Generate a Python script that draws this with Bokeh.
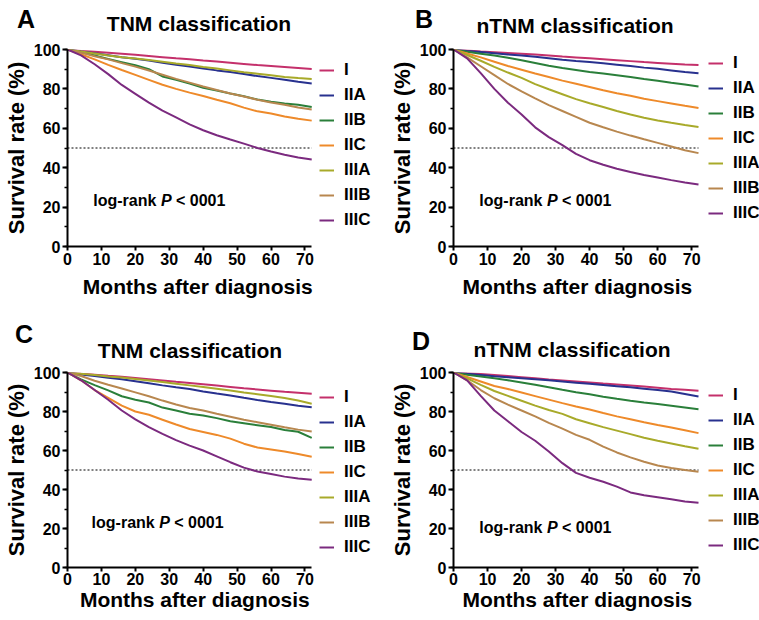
from bokeh.plotting import figure
from bokeh.models import Range1d, SingleIntervalTicker, Legend, LegendItem, Label, Div
from bokeh.layouts import column, row
from bokeh.embed import file_html
from bokeh.resources import INLINE

FONT = "Liberation Sans"

months = [0, 4, 8, 12, 16, 20, 24, 28, 32, 36, 40, 44, 48, 52, 56, 60, 64, 68, 72]
stages = ["I", "IIA", "IIB", "IIC", "IIIA", "IIIB", "IIIC"]
colors = ["#C4306B", "#28318F", "#2A7F3A", "#EE8A2A", "#A8AA2A", "#B8874F", "#7B2A7F"]
x_ticks_interval = 10
y_ticks_interval = 20
followup_end = 72
median_level = 50

panel_a = {
    "I":    [100, 99.3, 98.8, 98.3, 97.8, 97.3, 96.7, 96.1, 95.5, 95.0, 94.4, 93.9, 93.3, 92.7, 92.1, 91.6, 91.1, 90.6, 90.1],
    "IIA":  [100, 99.0, 98.1, 97.1, 96.1, 95.3, 94.4, 93.3, 92.3, 91.4, 90.4, 89.4, 88.6, 87.6, 86.5, 85.6, 84.6, 83.6, 82.7],
    "IIB":  [100, 98.6, 97.0, 95.2, 93.6, 92.0, 90.0, 86.3, 84.6, 82.7, 80.6, 79.2, 77.7, 76.3, 74.6, 73.5, 72.6, 71.9, 70.8],
    "IIC":  [100, 97.6, 95.0, 92.2, 89.6, 87.1, 84.6, 82.1, 80.0, 78.1, 76.4, 74.5, 72.7, 70.5, 68.6, 67.5, 66.0, 64.8, 63.9],
    "IIIA": [100, 99.0, 98.0, 97.0, 96.1, 95.4, 94.7, 93.8, 92.9, 92.1, 91.1, 90.3, 89.4, 88.5, 87.7, 86.9, 86.1, 85.5, 85.0],
    "IIIB": [100, 98.4, 96.6, 95.0, 93.1, 91.3, 89.3, 87.2, 85.1, 83.2, 81.2, 79.4, 77.7, 76.1, 74.5, 73.1, 72.0, 70.6, 69.5],
    "IIIC": [100, 97.0, 92.5, 87.5, 82.0, 77.5, 73.0, 69.0, 65.5, 62.0, 59.0, 56.5, 54.3, 52.2, 50.0, 48.2, 46.6, 45.2, 44.2],
}

panel_b = {
    "I":    [100, 99.5, 99.0, 98.6, 98.2, 97.8, 97.4, 96.9, 96.4, 96.0, 95.6, 95.1, 94.6, 94.1, 93.6, 93.2, 92.8, 92.4, 92.1],
    "IIA":  [100, 99.3, 98.7, 98.1, 97.5, 97.0, 96.3, 95.6, 94.8, 94.2, 93.7, 93.0, 92.3, 91.6, 90.8, 90.2, 89.4, 88.6, 88.0],
    "IIB":  [100, 98.9, 97.9, 96.9, 95.8, 94.5, 93.2, 91.8, 90.6, 89.6, 88.6, 87.8, 86.9, 86.0, 85.0, 84.1, 83.1, 82.2, 81.2],
    "IIC":  [100, 98.0, 96.0, 93.8, 91.6, 89.7, 87.8, 86.0, 84.2, 82.6, 81.0, 79.3, 77.8, 76.5, 75.0, 73.8, 72.6, 71.4, 70.3],
    "IIIA": [100, 97.2, 94.3, 91.2, 88.3, 85.6, 82.4, 79.8, 77.3, 74.8, 72.7, 70.8, 68.8, 67.0, 65.4, 64.0, 62.8, 61.7, 60.7],
    "IIIB": [100, 96.0, 91.5, 87.0, 82.5, 78.8, 75.2, 71.8, 68.8, 65.8, 62.8, 60.5, 58.3, 56.3, 54.4, 52.6, 50.8, 48.9, 47.4],
    "IIIC": [100, 95.5, 88.0, 80.0, 73.0, 67.0, 60.5, 55.5, 51.5, 47.0, 43.8, 41.5, 39.5, 37.8, 36.3, 35.0, 33.7, 32.5, 31.5],
}

panel_c = {
    "I":    [100, 99.4, 98.9, 98.3, 97.8, 97.2, 96.6, 95.9, 95.2, 94.6, 94.0, 93.3, 92.6, 91.9, 91.3, 90.7, 90.1, 89.6, 89.1],
    "IIA":  [100, 99.0, 98.2, 97.3, 96.5, 95.5, 94.5, 93.4, 92.4, 91.5, 90.3, 89.2, 88.2, 87.0, 85.9, 84.9, 84.0, 83.0, 82.2],
    "IIB":  [100, 96.5, 93.5, 90.8, 87.8, 86.0, 84.6, 82.0, 80.5, 78.8, 78.0, 76.6, 75.0, 74.0, 73.0, 72.0, 70.5, 69.6, 66.5],
    "IIC":  [100, 96.0, 91.0, 87.0, 83.0, 80.0, 78.3, 75.8, 73.3, 71.0, 69.5, 68.0, 66.1, 63.5, 61.5, 60.5, 59.5, 58.2, 56.8],
    "IIIA": [100, 99.4, 98.7, 98.0, 97.4, 96.7, 95.9, 95.1, 94.2, 93.4, 92.6, 91.7, 90.8, 89.8, 88.9, 87.9, 86.9, 85.6, 84.0],
    "IIIB": [100, 98.2, 95.8, 93.7, 91.8, 89.8, 87.8, 85.6, 83.6, 81.8, 80.5, 78.8, 77.3, 75.8, 74.5, 73.2, 71.9, 70.7, 69.7],
    "IIIC": [100, 96.0, 91.0, 86.0, 80.5, 76.0, 72.0, 68.5, 65.3, 62.5, 60.0, 57.0, 54.0, 51.2, 49.2, 47.9, 46.6, 45.6, 45.0],
}

panel_d = {
    "I":    [100, 99.6, 99.2, 98.7, 98.2, 97.6, 97.0, 96.4, 95.9, 95.4, 94.9, 94.3, 93.8, 93.3, 92.8, 92.2, 91.6, 91.1, 90.6],
    "IIA":  [100, 99.3, 98.7, 98.1, 97.6, 97.1, 96.6, 96.0, 95.4, 94.8, 94.2, 93.6, 93.0, 92.4, 91.7, 91.0, 90.2, 89.0, 87.7],
    "IIB":  [100, 98.8, 98.0, 97.0, 96.0, 94.9, 93.7, 92.4, 91.1, 89.9, 88.8, 87.6, 86.5, 85.5, 84.6, 83.8, 83.0, 82.1, 81.2],
    "IIC":  [100, 97.7, 95.4, 93.1, 91.5, 89.7, 87.9, 86.1, 84.3, 82.6, 81.0, 79.2, 77.5, 76.0, 74.5, 73.1, 71.8, 70.4, 68.9],
    "IIIA": [100, 97.0, 93.7, 90.5, 88.0, 85.5, 83.0, 80.8, 78.8, 76.0, 74.0, 72.0, 70.2, 68.4, 66.5, 65.0, 63.6, 62.2, 60.9],
    "IIIB": [100, 96.0, 91.0, 86.8, 83.5, 80.5, 77.5, 74.2, 71.2, 68.0, 65.5, 62.0, 59.0, 56.5, 54.2, 52.3, 51.0, 50.0, 49.1],
    "IIIC": [100, 96.0, 88.0, 80.5, 75.0, 69.5, 65.0, 59.5, 53.5, 48.5, 46.0, 44.0, 41.5, 38.5, 37.0, 36.0, 35.0, 33.8, 33.2],
}

FRAME_PX = 245  # pixel width of the 0..72 month span
NBSP = "\u00a0"


def make_header(width, height, letter, letter_left, letter_base, title, title_center, title_base):
    # line-height == font-size: Liberation Sans baseline sits at 0.8465 em below the box top
    html = (
        f'<div style="position:relative;width:{width}px;height:{height}px;'
        f"font-family:'{FONT}';font-weight:bold;color:black;\">"
        f'<span style="position:absolute;left:{letter_left}px;top:{letter_base - 21.2:.1f}px;'
        f'font-size:25px;line-height:25px;white-space:nowrap;">{letter}</span>'
        f'<span style="position:absolute;left:{title_center}px;top:{title_base - 17.8:.1f}px;'
        f'font-size:21px;line-height:21px;white-space:nowrap;transform:translateX(-50%);">{title}</span>'
        f'</div>'
    )
    return Div(text=html, width=width, height=height, margin=0)


def make_panel(series, width, height, bl, bt, bb, logrank_xy, legend_loc,
               tick_standoff, label_standoff, label_pad):
    frame_w = width - bl
    x_end = followup_end * frame_w / FRAME_PX
    p = figure(width=width, height=height, x_range=Range1d(0, x_end), y_range=Range1d(0, 100),
               output_backend="svg", toolbar_location=None,
               min_border_left=bl, min_border_right=0, min_border_top=bt, min_border_bottom=bb)
    p.outline_line_color = None
    p.grid.visible = False

    p.xaxis.ticker = SingleIntervalTicker(interval=x_ticks_interval, num_minor_ticks=0)
    p.yaxis.ticker = SingleIntervalTicker(interval=y_ticks_interval, num_minor_ticks=2)
    p.xaxis.bounds = (0, followup_end)
    p.xaxis.axis_label = "Months after diagnosis" + NBSP * label_pad
    p.yaxis.axis_label = "Survival rate (%)"
    for ax in (p.xaxis[0], p.yaxis[0]):
        ax.axis_line_width = 2
        ax.axis_line_color = "black"
        ax.major_tick_line_width = 2
        ax.major_tick_line_color = "black"
        ax.minor_tick_line_width = 1.5
        ax.minor_tick_line_color = "black"
        ax.major_tick_in = 0
        ax.minor_tick_in = 0
        ax.major_label_text_font = FONT
        ax.major_label_text_font_style = "bold"
        ax.major_label_text_font_size = "16px"
        ax.major_label_text_color = "black"
        ax.axis_label_text_font = FONT
        ax.axis_label_text_font_style = "bold"
        ax.axis_label_text_color = "black"
    p.xaxis.major_tick_out = 4
    p.xaxis.major_label_standoff = tick_standoff
    p.xaxis.axis_label_standoff = label_standoff
    p.xaxis.axis_label_text_font_size = "21px"
    p.yaxis.major_tick_out = 5
    p.yaxis.minor_tick_out = 3
    p.yaxis.major_label_standoff = 2
    p.yaxis.axis_label_standoff = 2
    p.yaxis.axis_label_text_font_size = "22px"

    p.line([0, followup_end], [median_level, median_level], line_color="black",
           line_width=1, line_dash="2 2")

    renderers = []
    for stage, color in zip(stages, colors):
        r = p.line(months, series[stage], line_color=color, line_width=2)
        renderers.append(r)

    items = [LegendItem(label=s, renderers=[r]) for s, r in zip(stages, renderers)]
    leg = Legend(items=items, location=legend_loc, glyph_width=15, glyph_height=20,
                 label_height=20, spacing=5, padding=0, margin=0, label_standoff=10,
                 label_text_font=FONT, label_text_font_style="bold",
                 label_text_font_size="17px", label_text_color="black",
                 border_line_color=None, background_fill_alpha=0)
    p.add_layout(leg)

    lx, ly = logrank_xy
    common = dict(x=lx, y=ly, text_font=FONT, text_font_size="16px",
                  text_baseline="middle", text_color="black")
    p.add_layout(Label(text="log-rank", text_font_style="bold", **common))
    p.add_layout(Label(text="P", x_offset=67.6, text_font_style="bold italic", **common))
    p.add_layout(Label(text="< 0001", x_offset=82.7, text_font_style="bold", **common))
    return p


hA = make_header(380, 36, "A", 17, 28, "TNM classification", 199, 31)
hB = make_header(379, 36, "B", 35, 28, "nTNM classification", 195, 33)
hC = make_header(380, 50, "C", 15, 33, "TNM classification", 190, 48)
hD = make_header(379, 50, "D", 32, 40, "nTNM classification", 192, 47)

pA = make_panel(panel_a, 380, 274, 66, 13, 64, (7.6, 23.4), (252, 16), 2, 7, 9)
pB = make_panel(panel_b, 379, 274, 73, 13, 64, (7.6, 23.4), (255, 23), 2, 7, 10)
pC = make_panel(panel_c, 380, 260, 66, 12, 53, (7.1, 23.1), (252, 10), 1, 0, 10)
pD = make_panel(panel_d, 379, 260, 73, 12, 53, (7.6, 20.5), (255, 12), 1, 0, 10)

layout = column(row(column(hA, pA), column(hB, pB)),
                row(column(hC, pC), column(hD, pD)))

open("out.html", "w").write(file_html(layout, INLINE))
